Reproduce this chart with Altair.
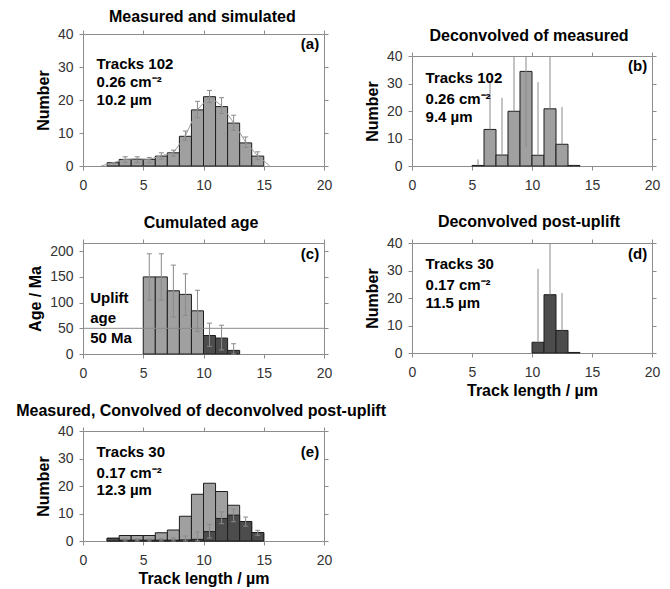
import altair as alt
import pandas as pd

FONT = "Liberation Sans"
LIGHT = "#a0a0a0"
DARK = "#4c4c4c"
EDGE = "#1e1e1e"
ERR = "#8a8a8a"
FRAME = "#8c8c8c"
LABEL = "#333333"

X_DOM = [0, 20]
X_TICKS = [0, 5, 10, 15, 20]
N_TICKS = [0, 10, 20, 30, 40]
AGE_TICKS = [0, 50, 100, 150, 200]

# ---------- (a) Measured and simulated ----------
a_title = "Measured and simulated"
a_bin_lo = [2, 3, 4, 5, 6, 7, 8, 9, 10, 11, 12, 13, 14]
a_measured = [1, 2, 2, 2, 3, 4, 9, 17, 21, 18, 13, 7, 3]
a_sim_x = [1.5, 2.5, 3.5, 4.5, 5.5, 6.5, 7.5, 8.5, 9.5, 10.5, 11.5, 12.5, 13.5, 14.5, 15.5]
a_sim_y = [0, 1.0, 2.0, 2.2, 2.0, 3.1, 4.0, 9.2, 17.1, 21.0, 18.3, 13.1, 7.2, 3.1, 0]
a_err_x = [3.5, 4.5, 5.5, 6.5, 7.5, 8.5, 9.5, 10.5, 11.5, 12.5, 13.5, 14.5]
a_err_lo = [1.1, 1.1, 1.0, 2.1, 3.0, 7.8, 14.6, 19.2, 15.9, 10.8, 5.6, 1.9]
a_err_hi = [2.8, 2.8, 2.6, 4.0, 4.8, 10.6, 19.6, 22.9, 20.7, 15.4, 8.8, 4.3]
a_text = ["Tracks 102", "0.26 cm\u207b\u00b2", "10.2 \u00b5m"]
a_text_y = [31.0, 25.5, 19.9]

# ---------- (b) Deconvolved of measured ----------
b_title = "Deconvolved of measured"
b_bin_lo = [5, 6, 7, 8, 9, 10, 11, 12, 13]
b_values = [0.2, 13.3, 4.0, 19.9, 34.4, 3.9, 20.8, 7.9, 0.2]
b_err_x = [5.5, 6.5, 7.5, 8.5, 9.5, 10.5, 11.5, 12.5, 13.5]
b_err_lo = [0.2, 13.3, 4.0, 19.9, 6.9, 3.9, 20.8, 7.9, 0.2]
b_err_hi = [2.4, 30.5, 24.8, 40.0, 40.0, 30.5, 40.0, 21.5, 0.5]
b_text = ["Tracks 102", "0.26 cm\u207b\u00b2", "9.4 \u00b5m"]
b_text_y = [32.0, 24.5, 17.8]

# ---------- (c) Cumulated age ----------
c_title = "Cumulated age"
c_bin_lo = [5, 6, 7, 8, 9, 10, 11, 12]
c_age = [150, 150, 123, 116, 84, 36, 31, 7]
c_group = ["pre", "pre", "pre", "pre", "pre", "post", "post", "post"]
c_err_x = [5.5, 6.5, 7.5, 8.5, 9.5, 10.5, 11.5, 12.5]
c_err_lo = [105, 105, 72, 75, 44, 15, 8, 0]
c_err_hi = [195, 195, 173, 156, 124, 60, 56, 20]
c_uplift_age = [50]
c_text = ["Uplift", "age", "50 Ma"]
c_text_y = [109, 71, 31.5]

# ---------- (d) Deconvolved post-uplift ----------
d_title = "Deconvolved post-uplift"
d_bin_lo = [10, 11, 12, 13]
d_values = [3.9, 21.2, 8.2, 0.2]
d_err_x = [10.5, 11.5, 12.5]
d_err_lo = [3.9, 21.2, 8.2]
d_err_hi = [30.6, 40.0, 21.8]
d_text = ["Tracks 30", "0.17 cm\u207b\u00b2", "11.5 \u00b5m"]
d_text_y = [32.5, 24.8, 18.2]

# ---------- (e) Measured, convolved of deconvolved post-uplift ----------
e_title = "Measured, Convolved of deconvolved post-uplift"
e_bin_lo = [2, 3, 4, 5, 6, 7, 8, 9, 10, 11, 12, 13, 14]
e_measured = [1, 2, 2, 2, 3, 4, 9, 17, 21, 18, 13, 7, 3]
e_convolved = [1.0, 0.3, 0.3, 0.3, 0.3, 0.3, 0.4, 0.6, 3.4, 8.2, 9.4, 7.1, 3.1]
e_err_x = [3.5, 4.5, 5.5, 6.5, 7.5, 8.5, 9.5, 10.5, 11.5, 12.5, 13.5, 14.5]
e_err_lo = [0, 0, 0, 0, 0, 0, 0, 1.1, 6.3, 7.0, 5.4, 2.1]
e_err_hi = [0.8, 0.8, 0.8, 1.0, 1.2, 1.8, 3.3, 6.0, 10.6, 11.6, 8.7, 3.9]
e_text = ["Tracks 30", "0.17 cm\u207b\u00b2", "12.3 \u00b5m"]
e_text_y = [32.4, 24.7, 18.4]


def xscale():
    return alt.Scale(domain=X_DOM, nice=False, zero=False)


class Panel:
    def __init__(self, ydom, yrange=None):
        self.ydom = ydom
        self.yrange = yrange

    def ys(self):
        if self.yrange is not None:
            return alt.Scale(domain=self.ydom, range=self.yrange, nice=False, zero=False)
        return alt.Scale(domain=self.ydom, nice=False, zero=False)

    def xy(self, xf, yf):
        return dict(x=alt.X(xf, type="quantitative", scale=xscale(), axis=None),
                    y=alt.Y(yf, type="quantitative", scale=self.ys(), axis=None))

    def bars(self, lo, vals, fill):
        df = pd.DataFrame({"x0": lo, "x1": [v + 1 for v in lo], "v": vals})
        return alt.Chart(df).mark_rect(fill=fill, stroke=EDGE, strokeWidth=1).encode(
            x2="x1:Q", y2=alt.datum(0), **self.xy("x0", "v"))

    def errs(self, xs, lo, hi, caps):
        df = pd.DataFrame({"x": xs, "lo": lo, "hi": hi})
        out = [alt.Chart(df).mark_rule(color=ERR, strokeWidth=1).encode(y2="hi:Q", **self.xy("x", "lo"))]
        if caps:
            for f in ["lo", "hi"]:
                out.append(alt.Chart(df).mark_tick(orient="horizontal", size=5, thickness=1,
                                                   color=ERR, opacity=1).encode(**self.xy("x", f)))
        return out

    def title(self, text, x, y):
        df = pd.DataFrame({"x": [x], "y": [y], "t": [text]})
        return alt.Chart(df).mark_text(align="center", baseline="middle", font=FONT, fontSize=16,
                                       fontWeight="bold", color="black").encode(
            text="t:N", **self.xy("x", "y"))

    def texts(self, lines, ys, tag, tag_y, text_x=1.13, tag_x=19.6):
        df = pd.DataFrame({"x": [text_x] * len(lines), "y": ys, "t": lines})
        t1 = alt.Chart(df).mark_text(align="left", baseline="middle", font=FONT, fontSize=15,
                                     fontWeight="bold", color="black").encode(
            text="t:N", **self.xy("x", "y"))
        tdf = pd.DataFrame({"x": [tag_x], "y": [tag_y], "t": [tag]})
        t2 = alt.Chart(tdf).mark_text(align="right", baseline="middle", font=FONT, fontSize=15,
                                      fontWeight="bold", color="black").encode(
            text="t:N", **self.xy("x", "y"))
        return [t1, t2]

    def axes(self, yticks, xtitle, ytitle, top_offset=0):
        anchor = pd.DataFrame({"x": [0], "y": [0]})
        common = dict(grid=False, tickSize=4, tickColor=FRAME, domainColor=FRAME, minExtent=0,
                      labelFont=FONT, labelFontSize=14, labelColor=LABEL, labelFlush=False,
                      titleFont=FONT, titleFontSize=16, titleFontWeight="bold", titleColor="black")
        main = alt.Chart(anchor).mark_point(opacity=0).encode(
            x=alt.X("x:Q", scale=xscale(),
                    axis=alt.Axis(values=X_TICKS, title=xtitle, labelPadding=8, titlePadding=3, **common)),
            y=alt.Y("y:Q", scale=self.ys(),
                    axis=alt.Axis(values=yticks, title=ytitle, labelPadding=6, titlePadding=6, **common)),
        )
        top_kw = dict(orient="top", values=X_TICKS, labels=False, title=None,
                      grid=False, tickSize=4, tickColor=FRAME, domainColor=FRAME, minExtent=0)
        if top_offset:
            top_kw["offset"] = top_offset
        mirror = alt.Chart(anchor).mark_point(opacity=0).encode(
            x=alt.X("x:Q", scale=xscale(), axis=alt.Axis(**top_kw)),
            y=alt.Y("y:Q", scale=self.ys(),
                    axis=alt.Axis(orient="right", values=yticks, labels=False, title=None,
                                  grid=False, tickSize=4, tickColor=FRAME, domainColor=FRAME, minExtent=0)),
        )
        return [main, mirror]


def panel(layers, w, h):
    return alt.layer(*layers).resolve_axis(x="independent", y="independent").properties(
        width=w, height=h, view=alt.ViewBackground(stroke="transparent"))


NDOM = [0, 40]
ADOM = [0, 216]

# (a)
A = Panel(NDOM)
a_line = alt.Chart(pd.DataFrame({"x": a_sim_x, "y": a_sim_y})).mark_line(
    color="#9a9a9a", strokeWidth=1).encode(**A.xy("x", "y"))
pa = panel(
    A.axes(N_TICKS, None, "Number")
    + [A.bars(a_bin_lo, a_measured, LIGHT), a_line]
    + A.errs(a_err_x, a_err_lo, a_err_hi, True)
    + A.texts(a_text, a_text_y, "(a)", 36.9)
    + [A.title(a_title, 9.9, 45.2)],
    241, 132,
)

# (b) -- drawn in the lower 110 px of a 132 px cell
B = Panel(NDOM, [132, 22])
pb = panel(
    B.axes(N_TICKS, None, "Number", top_offset=-22)
    + [B.bars(b_bin_lo, b_values, LIGHT)]
    + B.errs(b_err_x, b_err_lo, b_err_hi, False)
    + B.texts(b_text, b_text_y, "(b)", 36.4)
    + [B.title(b_title, 9.75, 47.3)],
    240, 132,
)

# (c)
C = Panel(ADOM)
c_df = pd.DataFrame({"x0": c_bin_lo, "x1": [v + 1 for v in c_bin_lo], "v": c_age, "g": c_group})
c_bars = alt.Chart(c_df).mark_rect(stroke=EDGE, strokeWidth=1).encode(
    x2="x1:Q", y2=alt.datum(0),
    fill=alt.Fill("g:N", scale=alt.Scale(domain=["pre", "post"], range=[LIGHT, DARK]), legend=None),
    **C.xy("x0", "v"),
)
c_rule = alt.Chart(pd.DataFrame({"age": c_uplift_age})).mark_rule(color=ERR, strokeWidth=1).encode(
    y=alt.Y("age:Q", scale=C.ys(), axis=None),
)
pc = panel(
    C.axes(AGE_TICKS, None, "Age / Ma")
    + [c_bars, c_rule]
    + C.errs(c_err_x, c_err_lo, c_err_hi, True)
    + C.texts(c_text, c_text_y, "(c)", 194, text_x=0.6)
    + [C.title(c_title, 9.8, 255.5)],
    241, 111,
)

# (d)
D = Panel(NDOM)
pd_ = panel(
    D.axes(N_TICKS, "Track length /  \u00b5m", "Number")
    + [D.bars(d_bin_lo, d_values, DARK)]
    + D.errs(d_err_x, d_err_lo, d_err_hi, False)
    + D.texts(d_text, d_text_y, "(d)", 36.1)
    + [D.title(d_title, 9.75, 47.7)],
    240, 110,
)

# (e)
E = Panel(NDOM)
pe = panel(
    E.axes(N_TICKS, "Track length / \u00b5m", "Number")
    + [E.bars(e_bin_lo, e_measured, LIGHT), E.bars(e_bin_lo, e_convolved, DARK)]
    + E.errs(e_err_x, e_err_lo, e_err_hi, True)
    + E.texts(e_text, e_text_y, "(e)", 32.4)
    + [E.title(e_title, 9.8, 47.3)],
    241, 110,
)

chart = alt.concat(pa, pb, pc, pd_, pe, columns=2, spacing={"row": 77, "column": 88},
                   bounds="flush", align="each").properties(
    padding={"left": 7, "top": 0, "right": 0, "bottom": 0}
)

chart.save("out.html", embed_options={"renderer": "svg", "actions": False})
